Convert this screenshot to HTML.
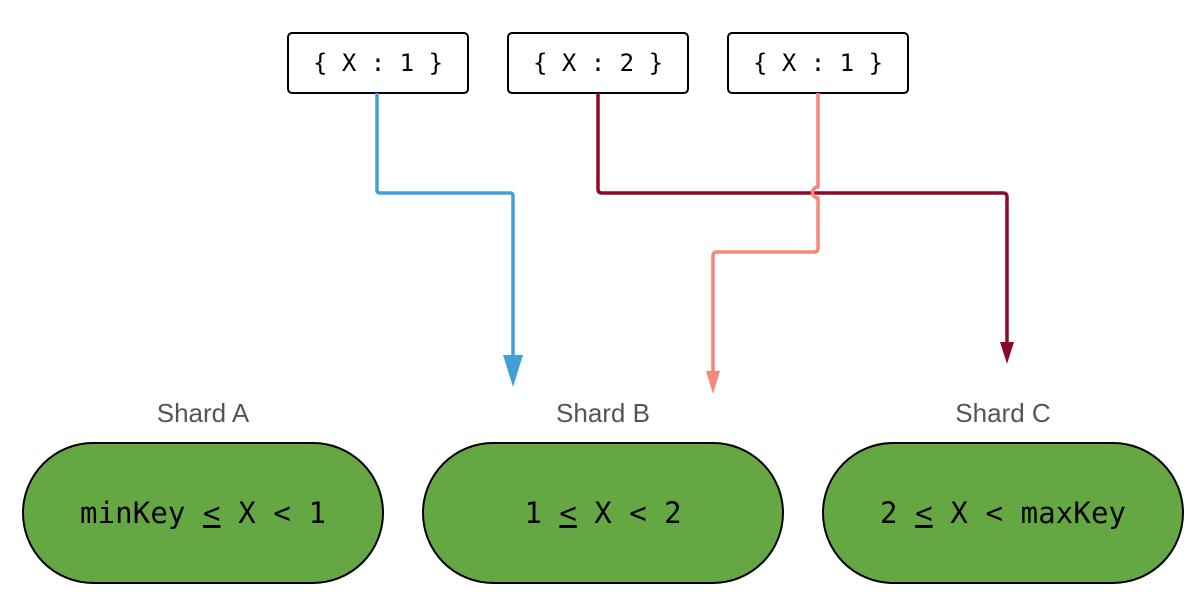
<!DOCTYPE html>
<html><head><meta charset="utf-8"><style>
html,body{margin:0;padding:0;background:#fff;}
svg{display:block;}
.mono{font-family:"DejaVu Sans Mono","Liberation Mono",monospace;}
.lab{font-family:"Liberation Sans",sans-serif;fill:#555;font-size:26px;}
</style></head><body>
<svg width="1203" height="605" viewBox="0 0 1203 605">
<g>
<rect x="288" y="33" width="180" height="60" rx="4" fill="#fff" stroke="#000" stroke-width="2"/>
<text x="378" y="71" text-anchor="middle" class="mono" font-size="24">{ X : 1 }</text></g>
<g>
<rect x="508" y="33" width="180" height="60" rx="4" fill="#fff" stroke="#000" stroke-width="2"/>
<text x="598" y="71" text-anchor="middle" class="mono" font-size="24">{ X : 2 }</text></g>
<g>
<rect x="728" y="33" width="180" height="60" rx="4" fill="#fff" stroke="#000" stroke-width="2"/>
<text x="818" y="71" text-anchor="middle" class="mono" font-size="24">{ X : 1 }</text></g>

<path d="M377 93 V190 Q377 193 380 193 H510 Q513 193 513 196 V360" fill="none" stroke="#449fd6" stroke-width="3.5" stroke-linejoin="round"/>
<polygon points="503,355 523,355 513,387" fill="#449fd6"/>

<path d="M598 93 V189 Q598 193 602 193 H1003 Q1007 193 1007 197 V345" fill="none" stroke="#8b0a26" stroke-width="3.5" stroke-linejoin="round"/>
<polygon points="1000,342 1014,342 1007,364" fill="#8b0a26"/>

<path d="M818 93 V187 A5 5 0 0 0 818 198 V248 Q818 252 814 252 H717 Q713 252 713 256 V373" fill="none" stroke="#f7877a" stroke-width="3.5" stroke-linejoin="round"/>
<polygon points="706,371 720,371 713,394" fill="#f7877a"/>

<g>
<text x="203" y="422" text-anchor="middle" class="lab">Shard A</text>
<rect x="23" y="443" width="360" height="140" rx="70" fill="#65a843" stroke="#000" stroke-width="2"/>
<text x="203" y="523" text-anchor="middle" class="mono" font-size="29" textLength="246">minKey <tspan text-decoration="underline">&lt;</tspan> X &lt; 1</text></g>
<g>
<text x="603" y="422" text-anchor="middle" class="lab">Shard B</text>
<rect x="423" y="443" width="360" height="140" rx="70" fill="#65a843" stroke="#000" stroke-width="2"/>
<text x="603" y="523" text-anchor="middle" class="mono" font-size="29">1 <tspan text-decoration="underline">&lt;</tspan> X &lt; 2</text></g>
<g>
<text x="1003" y="422" text-anchor="middle" class="lab">Shard C</text>
<rect x="823" y="443" width="360" height="140" rx="70" fill="#65a843" stroke="#000" stroke-width="2"/>
<text x="1003" y="523" text-anchor="middle" class="mono" font-size="29" textLength="246">2 <tspan text-decoration="underline">&lt;</tspan> X &lt; maxKey</text></g>
</svg>
</body></html>
